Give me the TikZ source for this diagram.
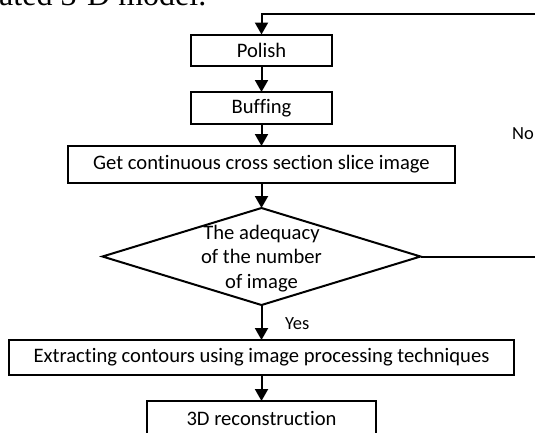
\documentclass[tikz,border=0pt]{standalone}
\usepackage{fontspec}
\setmainfont{Carlito}[Ligatures={NoCommon}]
\newfontfamily\serifface{Liberation Serif}
\usetikzlibrary{arrows.meta,shapes.geometric}
\begin{document}
\begin{tikzpicture}[x=1pt,y=-1pt,
  boxtext/.style={font=\fontsize{20.6}{24.5}\selectfont},
  stepbox/.style={draw, line width=2pt, inner sep=0pt, outer sep=0pt, boxtext},
  decision/.style={draw, diamond, line width=2pt, inner sep=0pt, outer sep=0pt,
    minimum width=318pt, minimum height=97pt},
  flow/.style={line width=2pt, -{Triangle[width=13pt,length=12pt]}},
  branch/.style={font=\fontsize{18.5}{20}\selectfont}]
\useasboundingbox (0,0) rectangle (535,432);
\clip (0,0) rectangle (535,432);
\fill[white] (0,0) rectangle (535,432);

% tail of the preceding sentence
\node[anchor=base west, inner sep=0pt, font=\serifface\fontsize{32}{36}\selectfont] (caption) at (-1,5) {ated 3-D model.};

% process steps
\node[stepbox, minimum width=141pt, minimum height=31pt] (polish) at (261.5,50) {Polish};
\node[stepbox, minimum width=141pt, minimum height=32pt] (buff) at (261.5,108) {Buffing};
\node[stepbox, minimum width=387pt, minimum height=37pt] (slice) at (261.5,164.5) {Get continuous cross section slice image};
\node[decision] (check) at (261.5,256.5) {};
\node[boxtext, align=center, inner sep=0pt] (checktext) at (261.5,258.5) {The adequacy\\of the number\\of image};
\node[stepbox, minimum width=505pt, minimum height=35pt] (extract) at (261.5,357.5) {Extracting contours using image processing techniques};
\node[stepbox, minimum width=229pt, minimum height=35pt] (recon) at (261.5,418.5) {3D reconstruction};

% main flow
\draw[flow] (polish) -- (buff);
\draw[flow] (buff) -- (slice);
\draw[flow] (slice) -- (check);
\draw[flow] (check) -- (extract);
\draw[flow] (extract) -- (recon);
\node[branch, anchor=west, inner sep=0pt] (yes) at (285,324) {Yes};

% loop back when the images are not enough
\coordinate (loopR) at (560,13.5);
\draw[flow] (check.east) -| (loopR) -| (polish.north);
\node[branch, anchor=west, inner sep=0pt] (no) at (512,134) {No};
\end{tikzpicture}
\end{document}
